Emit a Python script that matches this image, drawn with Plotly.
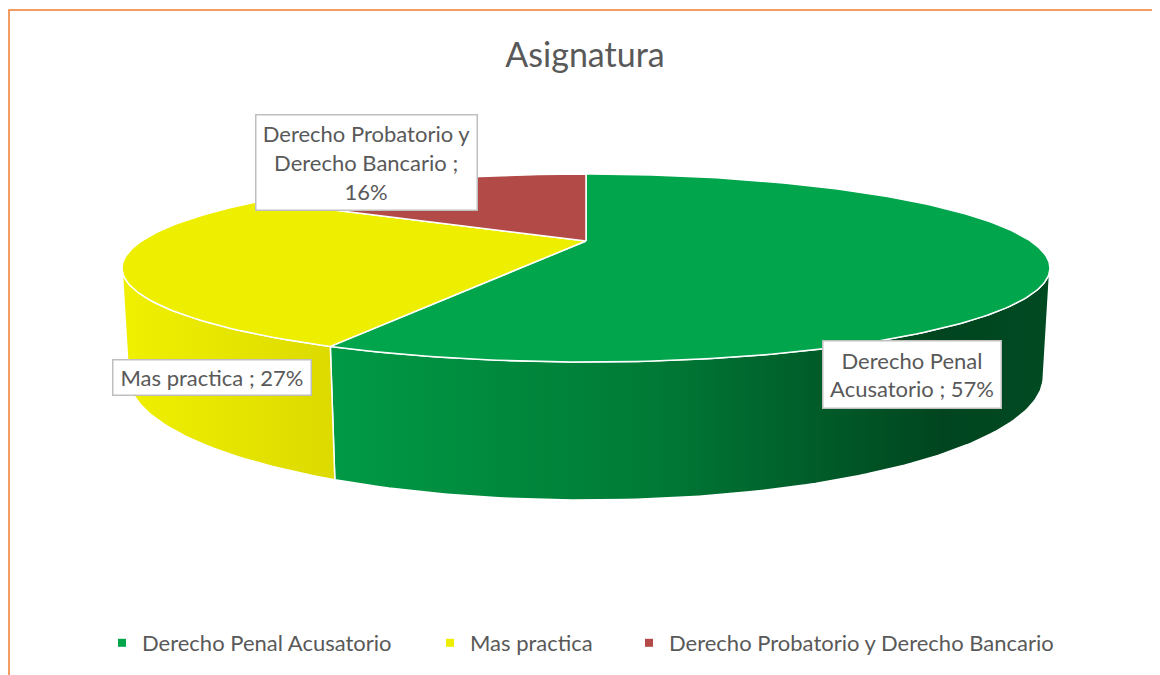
import math
import textwrap
import plotly.graph_objects as go

# ---- data ----
title_text = "Asignatura"
categories = ["Derecho Penal Acusatorio", "Mas practica", "Derecho Probatorio y Derecho Bancario"]
values = [57, 27, 16]

# ---- style ----
top_colors = ["#00A54C", "#EEEE00", "#B24A48"]
wall_scales = [
    [[0, "#009A45"], [0.45, "#007A36"], [0.85, "#00451F"], [1, "#004A22"]],
    [[0, "#F0F000"], [1, "#DCDA00"]],
    [[0, "#9A3E3C"], [1, "#7A2E2C"]],
]
label_wrap = [16, 30, 20]
label_pos = [(912, 374), (212, 377), (366, 162)]
label_size = [(171, 60), (191, 28), (214, 88)]
legend_text_x = [140, 468, 667]   # screen x where legend text starts
TXT = "#595959"
FONT = "Lato"

# page offset (browser body margin) -> figure is drawn in screen pixel coordinates
OFF = 8
W, HGT = 1160 - OFF, 675 - OFF

# projection params (3D pie with perspective)
CX, CY = 586.0, 241.0
F = 1517.0
DIST = 3.414
PHI = math.asin(0.194)
H = 0.2336
cphi, sphi = math.cos(PHI), math.sin(PHI)


def proj(X, Y, Z):
    v = Y * cphi - Z * sphi
    w = Z * cphi + Y * sphi
    sc = F / (DIST - w)
    return CX + X * sc, CY - v * sc


def arc(a0, a1, Y, n=None):
    if n is None:
        n = max(2, int(abs(a1 - a0)) + 1)
    pts = []
    for i in range(n + 1):
        a = math.radians(a0 + (a1 - a0) * i / n)
        pts.append(proj(math.sin(a), Y, -math.cos(a)))
    return pts


def px(x):
    return (x - OFF) / W


def py(y):
    return 1 - (y - OFF) / HGT


fig = go.Figure()

total = sum(values)
bounds = []
acc = 0.0
for v in values:
    a0 = acc / total * 360
    acc += v
    a1 = acc / total * 360
    bounds.append((a0, a1))

# visible wall range: Z > 1/(D cos phi)
zlim = 1.0 / (DIST * cphi)
vis0 = math.degrees(math.acos(-zlim))
vis1 = 360 - vis0

# walls first
for i, (a0, a1) in enumerate(bounds):
    lo, hi = max(a0, vis0), min(a1, vis1)
    if hi <= lo:
        continue
    top = arc(lo, hi, 0.0)
    bot = arc(lo, hi, -H)
    pts = top + bot[::-1] + [top[0]]
    xs = [p[0] for p in pts]
    ys = [p[1] for p in pts]
    fig.add_trace(go.Scatter(
        x=xs, y=ys, mode="lines", fill="toself",
        line=dict(color="white", width=1.5),
        fillgradient=dict(type="horizontal", colorscale=wall_scales[i],
                          start=min(xs), stop=max(xs)),
        showlegend=False, hoverinfo="skip"))

# top faces
for i, (a0, a1) in enumerate(bounds):
    pts = [proj(0, 0, 0)] + arc(a0, a1, 0.0) + [proj(0, 0, 0)]
    fig.add_trace(go.Scatter(
        x=[p[0] for p in pts], y=[p[1] for p in pts], mode="lines",
        fill="toself", fillcolor=top_colors[i],
        line=dict(color="white", width=1.5),
        showlegend=False, hoverinfo="skip"))

# legend entries, one legend each so they can be spaced like the original
legend_layout = {}
for i, cat in enumerate(categories):
    lname = "legend" if i == 0 else f"legend{i + 1}"
    fig.add_trace(go.Scatter(
        x=[None], y=[None], mode="markers", name=cat, legend=lname,
        marker=dict(symbol="square", size=8, color=top_colors[i])))
    legend_layout[lname] = dict(
        orientation="h", x=px(legend_text_x[i] - 38), xanchor="left",
        y=py(643), yanchor="middle",
        font=dict(family=FONT, size=22, color=TXT),
        itemwidth=30, bgcolor="rgba(0,0,0,0)")

# data labels
for i, cat in enumerate(categories):
    txt = "<br>".join(textwrap.wrap(f"{cat} ; {values[i]}%", label_wrap[i]))
    fig.add_annotation(
        x=label_pos[i][0], y=label_pos[i][1], xref="x", yref="y",
        text=txt, showarrow=False, align="center",
        width=label_size[i][0], height=label_size[i][1],
        bgcolor="white", bordercolor="#BFBFBF", borderwidth=1.5, borderpad=3,
        font=dict(family=FONT, size=22, color=TXT))

fig.add_shape(type="rect", xref="x", yref="y", x0=9, y0=10,
              x1=1200, y1=720, line=dict(color="#ED7D31", width=1.5),
              layer="above")

fig.update_layout(
    width=W, height=HGT,
    margin=dict(l=0, r=0, t=0, b=0),
    paper_bgcolor="white", plot_bgcolor="white",
    title=dict(text=title_text, x=px(585), xanchor="center", y=py(55),
               yanchor="middle", font=dict(family=FONT, size=34, color=TXT)),
    xaxis=dict(range=[OFF, 1160], visible=False, fixedrange=True),
    yaxis=dict(range=[675, OFF], visible=False, fixedrange=True),
    showlegend=True,
    **legend_layout,
)

fig.write_html("out.html")
